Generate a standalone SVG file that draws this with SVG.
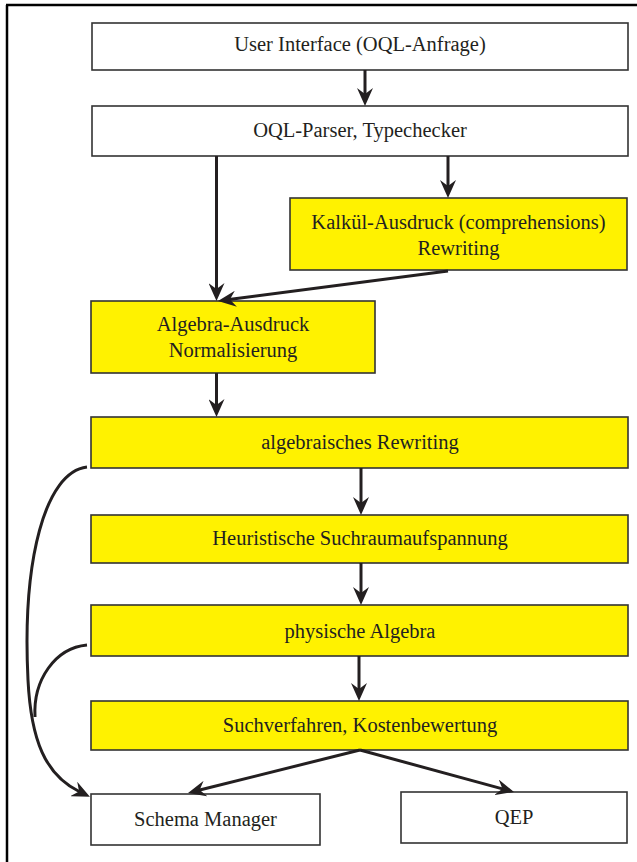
<svg xmlns="http://www.w3.org/2000/svg" width="637" height="862" viewBox="0 0 637 862">
<defs>
<style>
.box{stroke:#333;stroke-width:1.6}
.w{fill:#fff}
.y{fill:#fff200}
text{font-family:"Liberation Serif","Times New Roman",serif;font-size:20.5px;fill:#231f20;text-anchor:middle}
.c{fill:none;stroke:#231f20;stroke-width:3}
</style>
<marker id="ah" markerUnits="userSpaceOnUse" markerWidth="18" markerHeight="16" refX="7" refY="8" orient="auto" viewBox="0 0 18 16">
<path d="M0,0 L18,8 L0,16 L6,8 Z" fill="#231f20"/>
</marker>
</defs>
<rect width="637" height="862" fill="#fff"/>
<g id="frame"><path d="M6,5 H637 M7,5 V862" fill="none" stroke="#000" stroke-width="2.5"/></g>
<g id="n-ui"><rect class="box w" x="92" y="23" width="536" height="47"/><text x="360" y="51">User Interface (OQL-Anfrage)</text></g>
<g id="n-parser"><rect class="box w" x="92" y="106" width="536" height="50"/><text x="360" y="137">OQL-Parser, Typechecker</text></g>
<g id="n-kalkul"><rect class="box y" x="290" y="198" width="337" height="72"/><text x="458.5" y="229">Kalkül-Ausdruck (comprehensions)</text><text x="458.5" y="255">Rewriting</text></g>
<g id="n-algebra"><rect class="box y" x="91" y="301" width="284" height="72"/><text x="233" y="331">Algebra-Ausdruck</text><text x="233" y="357">Normalisierung</text></g>
<g id="n-algrew"><rect class="box y" x="91" y="417" width="537" height="51"/><text x="360" y="449">algebraisches Rewriting</text></g>
<g id="n-heur"><rect class="box y" x="91" y="515" width="537" height="48"/><text x="360" y="545">Heuristische Suchraumaufspannung</text></g>
<g id="n-phys"><rect class="box y" x="91" y="605" width="537" height="51"/><text x="360" y="638">physische Algebra</text></g>
<g id="n-such"><rect class="box y" x="91" y="701" width="537" height="49"/><text x="360" y="732">Suchverfahren, Kostenbewertung</text></g>
<g id="n-schema"><rect class="box w" x="91" y="794" width="229" height="51"/><text x="205.5" y="826">Schema Manager</text></g>
<g id="n-qep"><rect class="box w" x="401" y="792" width="226" height="51"/><text x="514" y="824">QEP</text></g>
<g id="connectors" class="c">
<path class="c" d="M365,70 V95" marker-end="url(#ah)"/>
<path class="c" d="M216.5,156 V290" marker-end="url(#ah)"/>
<path class="c" d="M448,156 V187" marker-end="url(#ah)"/>
<path class="c" d="M448,271 L228.9,299.6" marker-end="url(#ah)"/>
<path class="c" d="M216.5,373 V406" marker-end="url(#ah)"/>
<path class="c" d="M361,468 V504" marker-end="url(#ah)"/>
<path class="c" d="M361,563 V594" marker-end="url(#ah)"/>
<path class="c" d="M359,656 V690" marker-end="url(#ah)"/>
<path class="c" d="M360,750 L198.7,790.3" marker-end="url(#ah)"/>
<path class="c" d="M360,750 L503.4,789.1" marker-end="url(#ah)"/>
<path class="c" d="M87,467 C45,472 22,560 28,680 C31,740 45,775 80,792" marker-end="url(#ah)"/>
<path class="c" d="M87,645 C55,648 33,680 35,717"/>
</g>
</svg>
